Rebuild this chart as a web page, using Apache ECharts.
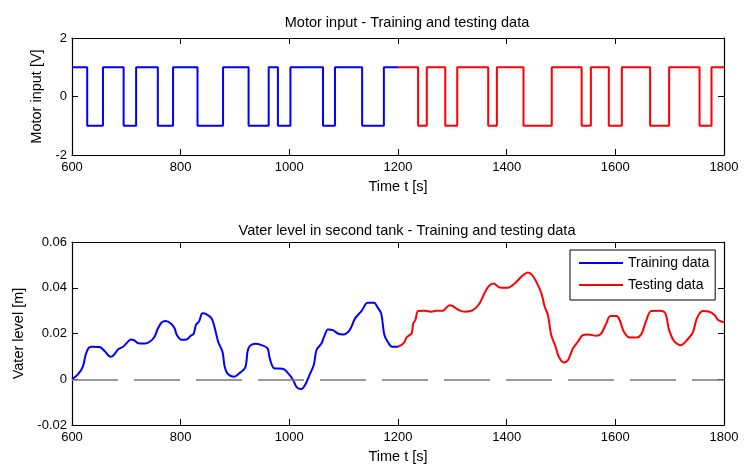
<!DOCTYPE html>
<html>
<head>
<meta charset="utf-8">
<script src="https://cdn.jsdelivr.net/npm/echarts@6/dist/echarts.min.js"></script>
<style>
  html, body { margin: 0; padding: 0; background: #fff; }
  #chart { width: 753px; height: 468px; }
</style>
</head>
<body>
<div id="chart"></div>
<script>
// motor input: switch times and new level (step series)
const trainInputT = [600, 628, 657, 695, 718, 758, 786, 831, 878, 925, 962, 979, 1002, 1062, 1084, 1134, 1174, 1200];
const trainInputU = [1, -1, 1, -1, 1, -1, 1, -1, 1, -1, 1, -1, 1, -1, 1, -1, 1, 1];
const testInputT = [1200, 1237, 1253, 1287, 1309, 1366, 1382, 1431, 1483, 1538, 1555, 1588, 1612, 1664, 1699, 1755, 1777, 1800];
const testInputU = [1, -1, 1, -1, 1, -1, 1, -1, 1, -1, 1, -1, 1, -1, 1, -1, 1, 1];

// water level in second tank
const trainLevelT = [600, 611, 620, 625, 630, 636, 651, 660, 671, 677, 685, 694, 701, 708, 714, 722, 734, 743, 752, 758,
  765, 772, 782, 789, 793, 801, 811, 818, 824, 828, 834, 840, 847, 857, 863, 869, 877, 881, 887, 898,
  908, 919, 923, 927, 937, 949, 960, 964, 972, 988, 998, 1007, 1013, 1022, 1029, 1037, 1045, 1050, 1059, 1064,
  1071, 1080, 1090, 1099, 1111, 1121, 1133, 1144, 1156, 1162, 1169, 1175, 1183, 1189, 1200];
const trainLevelH = [0, 0.0021, 0.0055, 0.0106, 0.0135, 0.0142, 0.0141, 0.0123, 0.0098, 0.0106, 0.0131, 0.0142, 0.0159, 0.0174, 0.0171, 0.0157, 0.0156, 0.0164, 0.0186, 0.0222,
  0.0248, 0.0255, 0.0244, 0.0222, 0.0193, 0.0173, 0.0174, 0.0189, 0.0199, 0.0237, 0.0253, 0.0288, 0.0285, 0.0266, 0.0222, 0.0164, 0.012, 0.0055, 0.0023, 0.0011,
  0.0026, 0.0052, 0.012, 0.0145, 0.0155, 0.0149, 0.0135, 0.0091, 0.0048, 0.0046, 0.0026, -0.0003, -0.0033, -0.0043, -0.0025, 0.0018, 0.0062, 0.0128, 0.0156, 0.0186,
  0.0218, 0.0215, 0.0199, 0.0196, 0.0215, 0.0266, 0.0299, 0.0334, 0.0334, 0.0316, 0.0288, 0.0193, 0.0156, 0.0142, 0.0142];
const testLevelT = [1200, 1210, 1217, 1225, 1228, 1232, 1237, 1249, 1261, 1271, 1282, 1295, 1301, 1312, 1324, 1338, 1350, 1359, 1367, 1376,
  1387, 1402, 1415, 1427, 1439, 1447, 1456, 1464, 1470, 1476, 1482, 1490, 1496, 1505, 1513, 1522, 1531, 1540, 1550, 1565,
  1574, 1582, 1591, 1602, 1608, 1615, 1626, 1639, 1648, 1656, 1666, 1681, 1692, 1699, 1709, 1721, 1734, 1743, 1750, 1761,
  1773, 1783, 1789, 1797, 1800];
const testLevelH = [0.0142, 0.0157, 0.0186, 0.02, 0.0244, 0.0259, 0.0298, 0.0299, 0.0295, 0.0299, 0.0299, 0.0324, 0.032, 0.0302, 0.0295, 0.0302, 0.0331, 0.0375, 0.0407, 0.0419,
  0.0401, 0.04, 0.0419, 0.0448, 0.0467, 0.0455, 0.0419, 0.0375, 0.0317, 0.028, 0.0193, 0.0142, 0.0098, 0.0073, 0.0084, 0.0135, 0.0164, 0.0193, 0.0196, 0.019,
  0.02, 0.0237, 0.0276, 0.0276, 0.0259, 0.0211, 0.0183, 0.0183, 0.0198, 0.0251, 0.0298, 0.0299, 0.0288, 0.0215, 0.0164, 0.0149, 0.0177, 0.0206, 0.0266, 0.0298,
  0.0295, 0.028, 0.0259, 0.0251, 0.025];

const timeTicks = { min: 600, max: 1800, interval: 200 };
const FONT = "'Liberation Sans', Arial, sans-serif";
const zip = (a, b) => a.map((v, i) => [v, b[i]]);

const chart = echarts.init(document.getElementById("chart"), null, { renderer: "canvas" });

const axisLine = { show: true, onZero: false, lineStyle: { color: "#000", width: 1.2 } };
const tick = { show: true, inside: true, length: 6, lineStyle: { color: "#000", width: 1 } };
const label = { color: "#000", fontSize: 13, fontFamily: FONT, formatter: (v) => String(v) };
const nameStyle = { color: "#000", fontSize: 14.5, fontFamily: FONT };

function xAxes(gridIndex) {
  return [
    {
      type: "value", gridIndex, ...timeTicks, position: "bottom",
      name: "Time t [s]", nameLocation: "middle", nameGap: 24, nameTextStyle: nameStyle,
      axisLine, axisTick: tick, axisLabel: { ...label, margin: 6 }, splitLine: { show: false },
    },
    {
      type: "value", gridIndex, ...timeTicks, position: "top",
      axisLine, axisTick: tick, axisLabel: { show: false }, splitLine: { show: false },
    },
  ];
}

function yAxes(gridIndex, min, max, interval, name, nameGap) {
  return [
    {
      type: "value", gridIndex, min, max, interval, position: "left",
      name, nameLocation: "middle", nameGap, nameTextStyle: nameStyle,
      axisLine, axisTick: tick, axisLabel: { ...label, margin: 5 }, splitLine: { show: false },
    },
    {
      type: "value", gridIndex, min, max, interval, position: "right",
      axisLine, axisTick: tick, axisLabel: { show: false }, splitLine: { show: false },
    },
  ];
}

const option = {
  backgroundColor: "#fff",
  animation: false,
  title: [
    {
      text: "Motor input - Training and testing data",
      left: 402, top: 10, textAlign: "center",
      textStyle: { ...nameStyle, fontWeight: "normal" },
    },
    {
      text: "Vater level in second tank - Training and testing data",
      left: 402, top: 218, textAlign: "center",
      textStyle: { ...nameStyle, fontWeight: "normal" },
    },
  ],
  legend: {
    data: ["Training data", "Testing data"],
    orient: "vertical",
    left: 570, top: 250,
    padding: [6, 6, 8, 9],
    itemGap: 8,
    itemWidth: 44,
    itemHeight: 2,
    icon: "rect",
    backgroundColor: "#fff",
    borderColor: "#000",
    borderWidth: 1,
    borderRadius: 0,
    textStyle: { color: "#000", fontSize: 14, fontFamily: FONT },
  },
  grid: [
    { left: 72, right: 29, top: 38, height: 117 },
    { left: 72, right: 29, top: 242, height: 183 },
  ],
  xAxis: [...xAxes(0), ...xAxes(1)],
  yAxis: [
    ...yAxes(0, -2, 2, 2, "Motor input [V]", 19),
    ...yAxes(1, -0.02, 0.06, 0.02, "Vater level [m]", 40),
  ],
  series: [
    {
      name: "Training data", type: "line", xAxisIndex: 0, yAxisIndex: 0,
      step: "end", showSymbol: false, data: zip(trainInputT, trainInputU),
      lineStyle: { color: "#0000ff", width: 2 }, itemStyle: { color: "#0000ff" },
    },
    {
      name: "Testing data", type: "line", xAxisIndex: 0, yAxisIndex: 0,
      step: "end", showSymbol: false, data: zip(testInputT, testInputU),
      lineStyle: { color: "#ff0000", width: 2 }, itemStyle: { color: "#ff0000" },
    },
    {
      name: "Training data", type: "line", xAxisIndex: 2, yAxisIndex: 2,
      smooth: 0.3, showSymbol: false, data: zip(trainLevelT, trainLevelH),
      lineStyle: { color: "#0000ff", width: 2 }, itemStyle: { color: "#0000ff" },
      markLine: {
        silent: true, symbol: "none", label: { show: false },
        lineStyle: { color: "#7a7a7a", width: 1.5, type: [46, 16] },
        data: [{ yAxis: 0 }],
      },
    },
    {
      name: "Testing data", type: "line", xAxisIndex: 2, yAxisIndex: 2,
      smooth: 0.3, showSymbol: false, data: zip(testLevelT, testLevelH),
      lineStyle: { color: "#ff0000", width: 2 }, itemStyle: { color: "#ff0000" },
    },
  ],
};

chart.setOption(option);
</script>
</body>
</html>
